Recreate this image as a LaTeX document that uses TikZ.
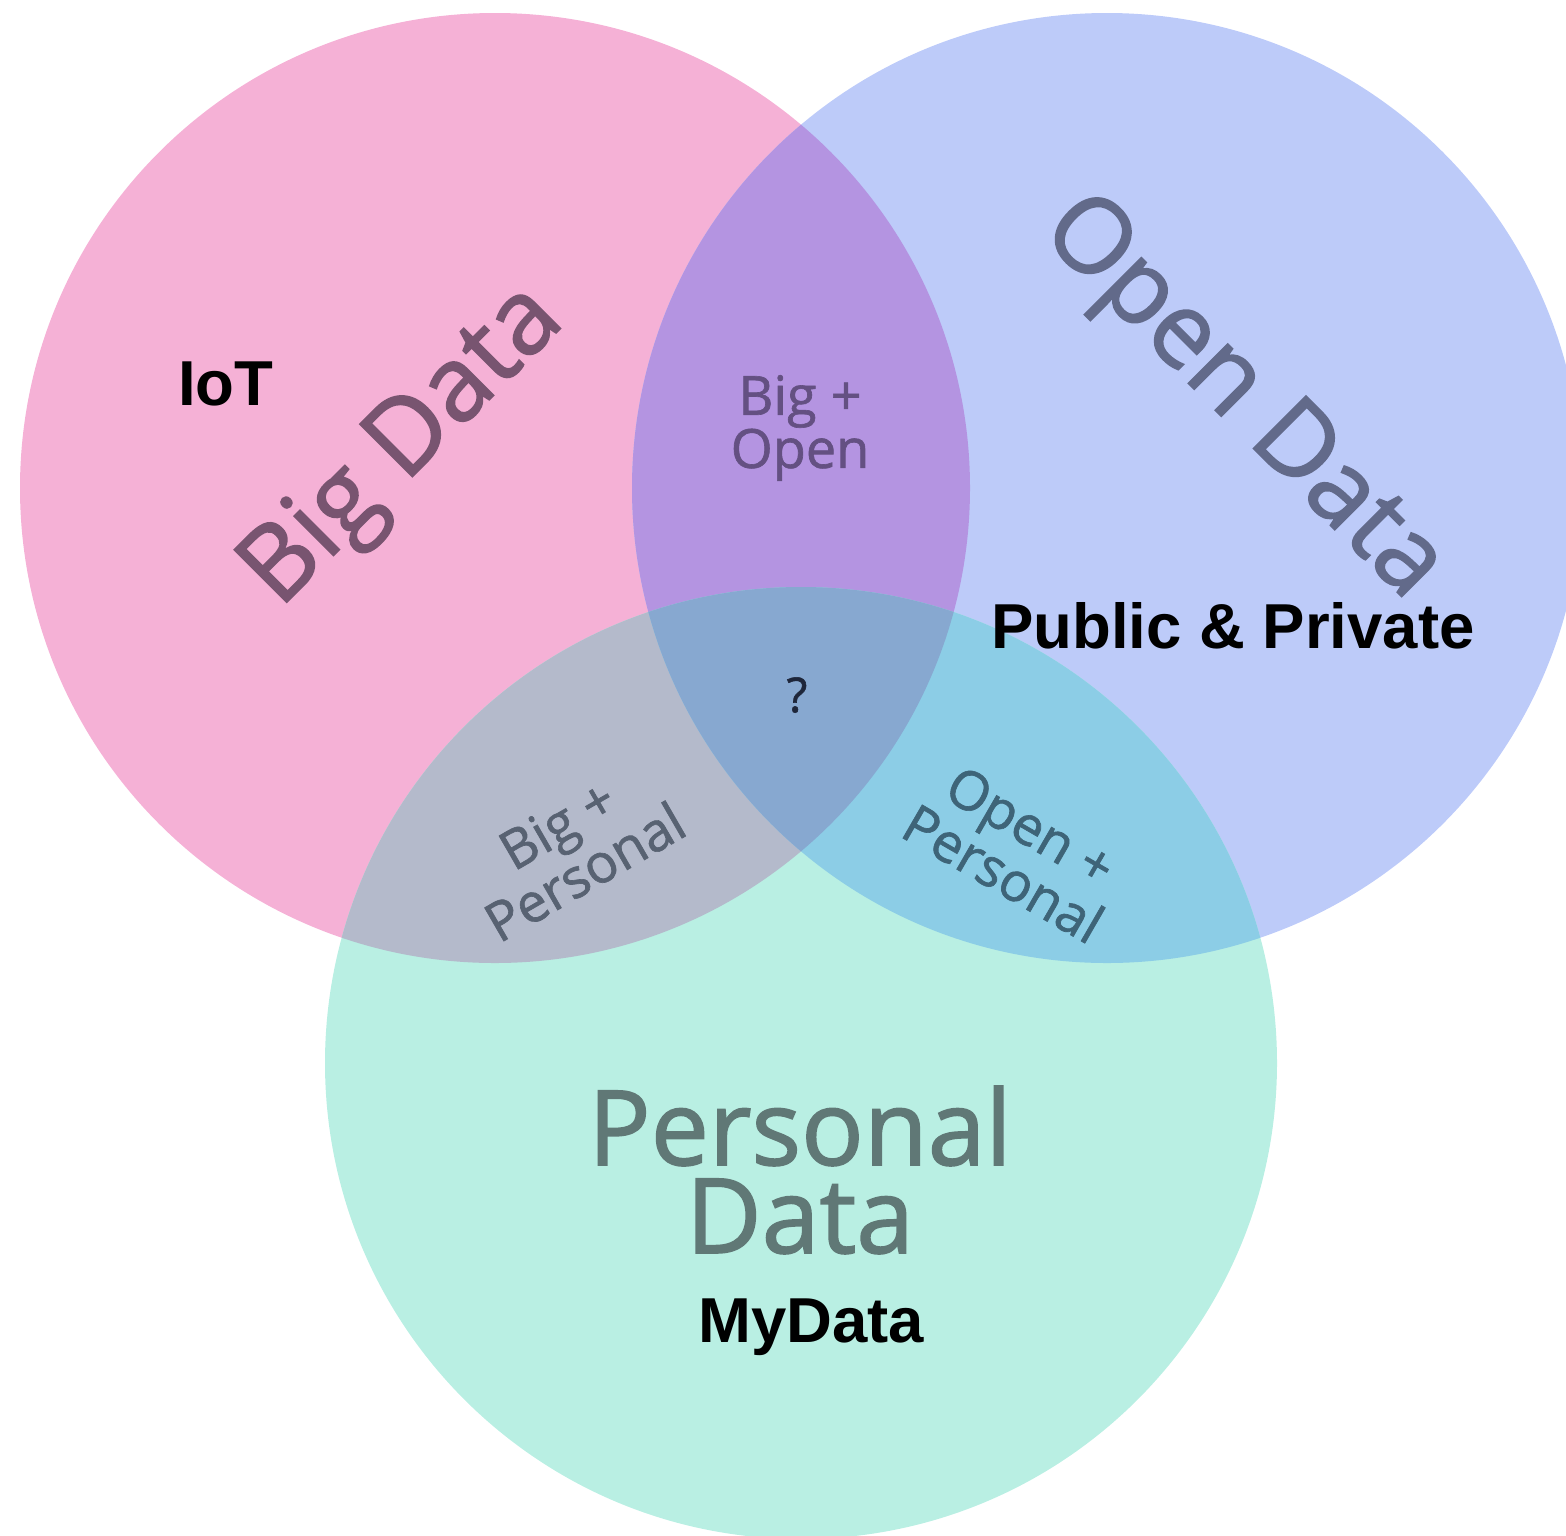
\documentclass[tikz,border=0pt]{standalone}
\usepackage{fontspec}
\newfontfamily\osans{Open Sans}[FakeBold=1.5]
\newfontfamily\osanss{Open Sans}[FakeBold=1.2]
\newfontfamily\lsans{Liberation Sans}
\definecolor{cpink}{RGB}{245,177,214}
\definecolor{cblue}{RGB}{189,203,249}
\definecolor{cteal}{RGB}{185,239,227}
\definecolor{cbo}{RGB}{180,148,225}
\definecolor{cbp}{RGB}{180,186,203}
\definecolor{cop}{RGB}{140,205,230}
\definecolor{cbop}{RGB}{135,168,208}
\definecolor{tbig}{RGB}{120,84,112}
\definecolor{topen}{RGB}{98,106,138}
\definecolor{tpers}{RGB}{96,120,118}
\definecolor{tbo}{RGB}{100,80,130}
\definecolor{tbp}{RGB}{88,98,114}
\definecolor{top}{RGB}{62,100,120}
\definecolor{tq}{RGB}{30,38,58}
\begin{document}
\begin{tikzpicture}[x=1pt,y=-1pt,
  biglbl/.style={inner sep=0pt, font=\osans\fontsize{104}{88}\selectfont},
  smalllbl/.style={inner sep=0pt, align=center, font=\osanss\fontsize{54}{52}\selectfont},
  qlbl/.style={inner sep=0pt, text=tq, font=\osanss\fontsize{48}{52}\selectfont},
  boldlbl/.style={inner sep=0pt, text=black, font=\lsans\bfseries\fontsize{63.5}{70}\selectfont}]
\useasboundingbox (0,0) rectangle (1566,1535);
\clip (0,0) rectangle (1566,1535);
\coordinate (cb) at (495,488);
\coordinate (co) at (1107,488);
\coordinate (cp) at (801,1063);
\fill[cpink] (cb) circle[radius=475pt];
\fill[cblue] (co) circle[radius=475pt];
\fill[cteal] (cp) circle[radius=476pt];
\begin{scope}
  \clip (cb) circle[radius=475pt];
  \fill[cbo] (co) circle[radius=475pt];
\end{scope}
\begin{scope}
  \clip (cb) circle[radius=475pt];
  \fill[cbp] (cp) circle[radius=476pt];
\end{scope}
\begin{scope}
  \clip (co) circle[radius=475pt];
  \fill[cop] (cp) circle[radius=476pt];
\end{scope}
\begin{scope}
  \clip (cb) circle[radius=475pt];
  \clip (co) circle[radius=475pt];
  \fill[cbop] (cp) circle[radius=476pt];
\end{scope}
\node[biglbl, text=tbig, anchor=base, rotate=45] (bigdata) at (423,466) {Big Data};
\node[biglbl, text=topen, anchor=base, rotate=-45] (opendata) at (1223,418) {Open Data};
\node[biglbl, text=tpers, anchor=base] (pers1) at (800,1165) {Personal};
\node[biglbl, text=tpers, anchor=base] (pers2) at (800,1253) {Data};
\node[smalllbl, text=tbo] (bo) at (800,428) {Big +\\Open};
\node[smalllbl, text=tbp, rotate=30] (bp) at (571,848) {Big +\\Personal};
\node[smalllbl, text=top, rotate=-30] (op) at (1017,850) {Open +\\Personal};
\node[qlbl] (q) at (797,695) {?};
\node[boldlbl, anchor=base west] (iot) at (178,405) {IoT};
\node[boldlbl, anchor=base west] (pp) at (991,648) {Public \& Private};
\node[boldlbl, anchor=base west] (my) at (698,1342) {MyData};
\end{tikzpicture}
\end{document}
